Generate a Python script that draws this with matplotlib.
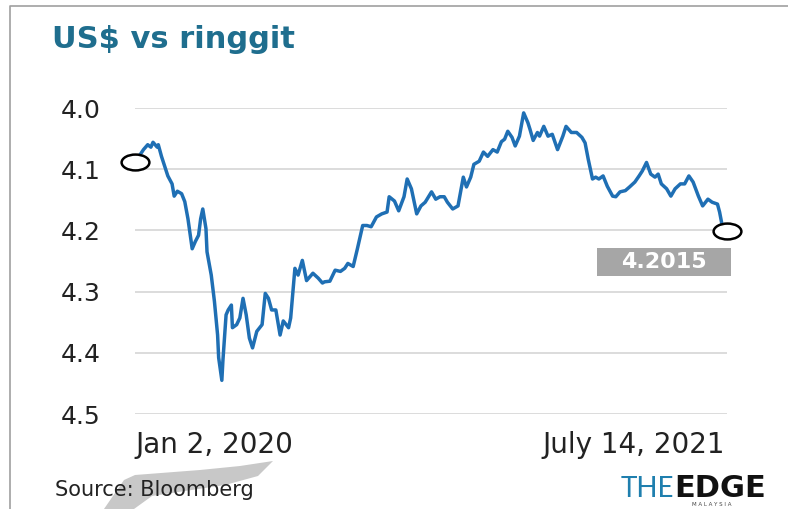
import matplotlib
matplotlib.use("Agg")
import matplotlib.pyplot as plt
import pandas as pd
from matplotlib.lines import Line2D
from matplotlib.patches import Polygon, Rectangle
from matplotlib.path import Path
from matplotlib.transforms import Affine2D

# USD/MYR closing rate, Jan 2 2020 - Jul 14 2021 (Bloomberg)
dates = [
    "2020-01-02", "2020-01-10", "2020-01-14", "2020-01-17", "2020-01-19", "2020-01-23",
    "2020-01-24", "2020-01-27", "2020-01-30", "2020-02-02", "2020-02-06", "2020-02-08",
    "2020-02-11", "2020-02-15", "2020-02-18", "2020-02-21", "2020-02-25", "2020-02-28",
    "2020-03-02", "2020-03-04", "2020-03-06", "2020-03-09", "2020-03-10", "2020-03-14",
    "2020-03-17", "2020-03-20", "2020-03-21", "2020-03-24", "2020-03-25", "2020-03-28",
    "2020-03-30", "2020-04-02", "2020-04-03", "2020-04-07", "2020-04-10", "2020-04-13",
    "2020-04-16", "2020-04-19", "2020-04-22", "2020-04-26", "2020-05-01", "2020-05-04",
    "2020-05-07", "2020-05-10", "2020-05-14", "2020-05-18", "2020-05-21", "2020-05-26",
    "2020-05-28", "2020-06-01", "2020-06-04", "2020-06-08", "2020-06-12", "2020-06-18",
    "2020-06-23", "2020-06-27", "2020-06-29", "2020-07-04", "2020-07-09", "2020-07-14",
    "2020-07-18", "2020-07-21", "2020-07-26", "2020-07-30", "2020-08-04", "2020-08-08",
    "2020-08-12", "2020-08-17", "2020-08-22", "2020-08-27", "2020-08-29", "2020-09-03",
    "2020-09-07", "2020-09-12", "2020-09-15", "2020-09-19", "2020-09-24", "2020-09-28",
    "2020-10-02", "2020-10-08", "2020-10-12", "2020-10-16", "2020-10-20", "2020-10-23",
    "2020-10-28", "2020-11-02", "2020-11-07", "2020-11-10", "2020-11-14", "2020-11-17",
    "2020-11-22", "2020-11-26", "2020-11-30", "2020-12-05", "2020-12-09", "2020-12-13",
    "2020-12-16", "2020-12-19", "2020-12-23", "2020-12-26", "2020-12-30", "2021-01-03",
    "2021-01-07", "2021-01-09", "2021-01-12", "2021-01-16", "2021-01-18", "2021-01-22",
    "2021-01-26", "2021-01-30", "2021-02-04", "2021-02-09", "2021-02-12", "2021-02-17",
    "2021-02-22", "2021-02-27", "2021-03-02", "2021-03-05", "2021-03-09", "2021-03-12",
    "2021-03-15", "2021-03-19", "2021-03-23", "2021-03-28", "2021-03-31", "2021-04-04",
    "2021-04-09", "2021-04-13", "2021-04-18", "2021-04-22", "2021-04-25", "2021-04-29",
    "2021-05-03", "2021-05-07", "2021-05-10", "2021-05-13", "2021-05-18", "2021-05-22",
    "2021-05-26", "2021-05-31", "2021-06-04", "2021-06-08", "2021-06-12", "2021-06-17",
    "2021-06-21", "2021-06-26", "2021-06-30", "2021-07-05", "2021-07-07", "2021-07-10",
    "2021-07-14",
]
rate = [
    4.089, 4.068, 4.060, 4.064, 4.056, 4.064,
    4.060, 4.079, 4.095, 4.111, 4.124, 4.144,
    4.136, 4.140, 4.153, 4.181, 4.230, 4.218,
    4.208, 4.181, 4.165, 4.197, 4.235, 4.273,
    4.316, 4.371, 4.408, 4.445, 4.413, 4.338,
    4.330, 4.322, 4.359, 4.354, 4.343, 4.311,
    4.338, 4.376, 4.392, 4.365, 4.354, 4.303,
    4.311, 4.330, 4.330, 4.371, 4.348, 4.359,
    4.343, 4.262, 4.273, 4.249, 4.282, 4.270,
    4.278, 4.286, 4.284, 4.283, 4.265, 4.267,
    4.262, 4.254, 4.259, 4.230, 4.192, 4.192,
    4.194, 4.178, 4.173, 4.170, 4.145, 4.152,
    4.168, 4.145, 4.116, 4.132, 4.173, 4.160,
    4.154, 4.137, 4.149, 4.145, 4.145, 4.154,
    4.165, 4.160, 4.113, 4.129, 4.113, 4.092,
    4.087, 4.072, 4.079, 4.068, 4.072, 4.055,
    4.051, 4.038, 4.048, 4.062, 4.046, 4.008,
    4.024, 4.035, 4.053, 4.040, 4.046, 4.030,
    4.046, 4.043, 4.068, 4.046, 4.030, 4.040,
    4.040, 4.048, 4.057, 4.084, 4.116, 4.113,
    4.116, 4.111, 4.128, 4.144, 4.145, 4.137,
    4.135, 4.129, 4.121, 4.111, 4.103, 4.089,
    4.108, 4.113, 4.108, 4.124, 4.132, 4.144,
    4.132, 4.124, 4.124, 4.111, 4.121, 4.144,
    4.160, 4.149, 4.154, 4.157, 4.170, 4.197,
    4.2015,
]
y_ticks = [4.0, 4.1, 4.2, 4.3, 4.4, 4.5]
date_labels = ["Jan 2, 2020", "July 14, 2021"]

W, H = 788, 509
dark = "#222222"


def fx(px):
    return px / W


def fy(py):
    return 1 - py / H


days = pd.to_datetime(dates)

fig = plt.figure(figsize=(W / 100, H / 100), dpi=100)
ax = fig.add_axes([fx(135), fy(414), fx(727) - fx(135), fy(108) - fy(414)])

ax.plot(days, rate, color="#1f6fb4", lw=2.5, solid_joinstyle="round", zorder=3)

# open rings at both ends, squashed sideways
ring = Path.unit_circle().transformed(Affine2D().scale(1.75, 1.0))
for i in (0, -1):
    ax.plot(days[i], rate[i], marker=ring, ms=20, mfc="white", mec="black",
            mew=1.8, clip_on=False, zorder=5)

ax.set_xlim(days[0], days[-1])
ax.set_ylim(4.5, 4.0)
ax.set_yticks(y_ticks)
ax.set_yticklabels([f"{t:.1f}" for t in y_ticks])
ax.set_xticks([])
ax.grid(axis="y", color="#d9d9d9", lw=1.3)
ax.set_axisbelow(True)
for s in ax.spines.values():
    s.set_visible(False)
ax.tick_params(axis="y", length=0, pad=25, labelsize=18, labelcolor=dark)

# date range under the plot
fig.text(fx(135), fy(453), date_labels[0], fontsize=20, color=dark, va="baseline")
fig.text(fx(725), fy(453), date_labels[1], fontsize=20, color=dark, va="baseline", ha="right")

# latest value tag
fig.add_artist(Rectangle((fx(597), fy(276)), fx(731) - fx(597), fy(248) - fy(276),
                         transform=fig.transFigure, fc="#a6a6a6", ec="none"))
fig.text(fx(664), fy(262), f"{rate[-1]:.4f}", fontsize=16, fontweight="bold",
         color="white", ha="center", va="center")

# title
fig.text(fx(52), fy(48), "US$ vs ringgit", fontsize=22, fontweight="bold",
         color="#1f6e8e", va="baseline")

# frame lines top and left
fig.add_artist(Line2D([fx(10), fx(10), 1], [0, fy(6), fy(6)], transform=fig.transFigure,
                      color="#a0a0a0", lw=1.2))

# grey flag behind the source line
flag = [(104, 509), (124, 480), (135, 475), (200, 470), (240, 466), (273, 461),
        (258, 476), (225, 485), (185, 491), (152, 496), (134, 509)]
fig.add_artist(Polygon([(fx(a), fy(b)) for a, b in flag], closed=True,
                       transform=fig.transFigure, fc="#c8c8c8", ec="none", zorder=0))

fig.text(fx(55), fy(496), "Source: Bloomberg", fontsize=15, color=dark, va="baseline")

# masthead
edge = fig.text(fx(766), fy(497), "EDGE", fontsize=22, fontweight="bold",
                color="#111111", ha="right", va="baseline")
renderer = fig.canvas.get_renderer()
edge_left = edge.get_window_extent(renderer).x0
fig.text(edge_left / W, fy(497), "THE", fontsize=20, family="Lato",
         color="#1f7fae", ha="right", va="baseline")
fig.text(fx(712), fy(506), "M A L A Y S I A", fontsize=4, color="#444444",
         ha="center", va="baseline")

fig.savefig("out.png", dpi=100)
